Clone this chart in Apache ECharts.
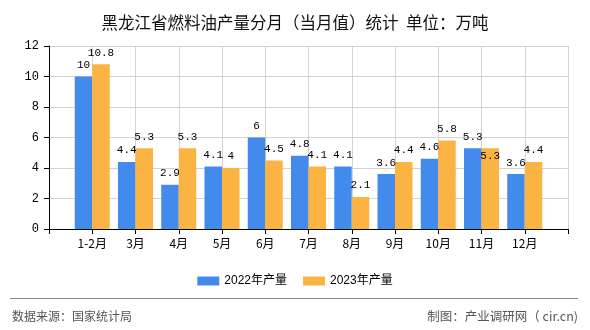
<!DOCTYPE html>
<html>
<head>
<meta charset="utf-8">
<script src="https://cdn.jsdelivr.net/npm/echarts@6/dist/echarts.min.js"></script>
<style>
html,body{margin:0;padding:0;background:#fff;}
#c{width:590px;height:330px;}
</style>
</head>
<body>
<div id="c"></div>
<script>
var categories = ['1-2月','3月','4月','5月','6月','7月','8月','9月','10月','11月','12月'];
var output2022 = [10, 4.4, 2.9, 4.1, 6, 4.8, 4.1, 3.6, 4.6, 5.3, 3.6];
var output2023 = [10.8, 5.3, 5.3, 4, 4.5, 4.1, 2.1, 4.4, 5.8, 5.3, 4.4];
var seriesNames = ['2022年产量', '2023年产量'];
var yTicks = [0, 2, 4, 6, 8, 10, 12];

var cjk = '"Noto Sans CJK SC", sans-serif';
var mono = '"Liberation Mono", "Noto Sans CJK SC", monospace';

var axisCats = [''].concat(categories).concat(['']);
function pad(arr, overrides) {
  var out = ['-'];
  arr.forEach(function (v, i) {
    if (overrides && overrides[i]) out.push({ value: v, label: overrides[i] });
    else out.push(v);
  });
  out.push('-');
  return out;
}

var chart = echarts.init(document.getElementById('c'), null, { renderer: 'canvas' });
var labelStyle = {
  show: true, position: 'top', distance: 6, color: '#000',
  fontFamily: mono, fontSize: 11
};
chart.setOption({
  animation: false,
  backgroundColor: '#fff',
  title: {
    text: '黑龙江省燃料油产量分月（当月值）统计  单位：万吨',
    left: 'center', top: 9,
    textStyle: { fontFamily: cjk, fontSize: 16.5, fontWeight: 'normal', color: '#111' }
  },
  legend: {
    data: seriesNames,
    left: 'center', top: 270,
    itemWidth: 22, itemHeight: 9, itemGap: 16,
    icon: 'rect',
    textStyle: { fontFamily: '"Liberation Sans", "Noto Sans CJK SC", sans-serif', fontSize: 12, color: '#000' }
  },
  grid: { left: 49, right: 22, top: 46, bottom: 101, containLabel: false },
  xAxis: {
    type: 'category',
    data: axisCats,
    boundaryGap: false,
    axisLine: { show: true, lineStyle: { color: '#000', width: 1 } },
    axisTick: { show: true, length: 5, interval: 0, lineStyle: { color: '#000' } },
    axisLabel: { interval: 0, margin: 8, color: '#000', fontFamily: cjk, fontSize: 12 },
    splitLine: { show: true, interval: 0, lineStyle: { color: '#d2d2d2', width: 1 } }
  },
  yAxis: {
    type: 'value',
    min: yTicks[0], max: yTicks[yTicks.length - 1], interval: yTicks[1] - yTicks[0],
    axisLine: { show: true, lineStyle: { color: '#000', width: 1 } },
    axisTick: { show: true, length: 5, lineStyle: { color: '#000' } },
    axisLabel: { margin: 10, color: '#000', fontFamily: mono, fontSize: 12 },
    splitLine: { show: true, lineStyle: { color: '#d2d2d2', width: 1 } }
  },
  series: [
    {
      name: seriesNames[0], type: 'bar', data: pad(output2022),
      barWidth: 17.5, barGap: '0%',
      itemStyle: { color: '#428bec' },
      label: labelStyle
    },
    {
      name: seriesNames[1], type: 'bar', data: pad(output2023, { 9: { position: 'insideTop', distance: 2 } }),
      barWidth: 17.5, barGap: '0%',
      itemStyle: { color: '#fbb444' },
      label: labelStyle
    }
  ],
  graphic: [
    { type: 'line', shape: { x1: 10, y1: 298.5, x2: 578, y2: 298.5 }, style: { stroke: '#888', lineWidth: 1 } },
    { type: 'text', left: 12, top: 310, style: { text: '数据来源：国家统计局', fontFamily: cjk, fontSize: 12, fill: '#555' } },
    { type: 'text', right: 12, top: 310, style: { text: '制图：产业调研网（ cir.cn)', fontFamily: cjk, fontSize: 12.5, fill: '#555' } }
  ]
});
</script>
</body>
</html>
